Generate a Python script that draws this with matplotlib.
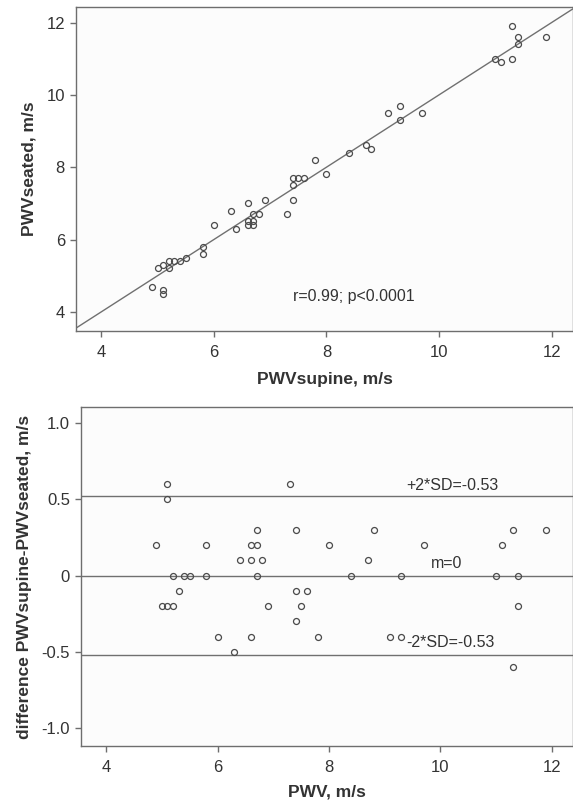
#!/usr/bin/env python3

import numpy as np
import matplotlib
matplotlib.use('Agg')
import matplotlib.pyplot as plt

pwv_supine = [4.9, 5.0, 5.1, 5.1, 5.1, 5.2, 5.2, 5.3, 5.4, 5.5,
              5.8, 5.8, 6.0, 6.3, 6.4, 6.6, 6.6, 6.6, 6.7, 6.7,
              6.7, 6.8, 6.9, 7.3, 7.4, 7.4, 7.4, 7.5, 7.6, 7.8,
              8.0, 8.4, 8.7, 8.8, 9.1, 9.3, 9.3, 9.7, 11.0, 11.1,
              11.3, 11.3, 11.4, 11.4, 11.9]
pwv_seated = [4.7, 5.2, 4.5, 4.6, 5.3, 5.2, 5.4, 5.4, 5.4, 5.5,
              5.6, 5.8, 6.4, 6.8, 6.3, 6.4, 6.5, 7.0, 6.4, 6.5,
              6.7, 6.7, 7.1, 6.7, 7.1, 7.5, 7.7, 7.7, 7.7, 8.2,
              7.8, 8.4, 8.6, 8.5, 9.5, 9.7, 9.3, 9.5, 11.0, 10.9,
              11.0, 11.9, 11.4, 11.6, 11.6]

limit_upper = 0.52
limit_mean = 0.0
limit_lower = -0.52

x_ticks = [4, 6, 8, 10, 12]
top_y_ticks = [4, 6, 8, 10, 12]
diff_ticks = [-1.0, -0.5, 0, 0.5, 1.0]
diff_tick_labels = ['-1.0', '-0.5', '0', '0.5', '1.0']

supine = np.array(pwv_supine)
seated = np.array(pwv_seated)
diff = supine - seated

spine_col = '#6e6e6e'
text_col = '#333333'
mark_col = '#4a4a4a'
bg_col = '#fcfcfc'

plt.rcParams['font.family'] = ['Liberation Sans', 'DejaVu Sans']

fig = plt.figure(figsize=(5.73, 8.0), dpi=100)
W, H = 573.0, 800.0


def px_axes(left, top, right, bottom):
    return fig.add_axes([left / W, 1 - bottom / H, (right - left) / W, (bottom - top) / H])


def style(ax):
    ax.set_facecolor(bg_col)
    for s in ax.spines.values():
        s.set_color(spine_col)
        s.set_linewidth(1.0)
    ax.tick_params(direction='out', length=4, width=1, color=spine_col,
                   labelcolor=text_col, labelsize=12)
    ax.tick_params(axis='x', pad=6)
    ax.tick_params(axis='y', pad=4)


# top: seated vs supine
ax1 = px_axes(76, 7, 573, 331)
style(ax1)
ax1.set_xlim(3.55, 12.38)
ax1.set_ylim(3.47, 12.43)
ax1.plot([3.4, 12.6], [3.4, 12.6], color='#707070', lw=1.0, zorder=1)
ax1.plot(supine, seated, 'o', ms=4.3, mfc='none', mec=mark_col, mew=0.9, zorder=2)
ax1.set_xticks(x_ticks)
ax1.set_yticks(top_y_ticks)
ax1.set_xlabel('PWVsupine, m/s', fontsize=12.5, fontweight='bold', color=text_col, labelpad=9)
ax1.set_ylabel('PWVseated, m/s', fontsize=12.5, fontweight='bold', color=text_col, labelpad=7)
ax1.text(8.49, 4.43, 'r=0.99; p<0.0001', ha='center', va='center', fontsize=11.5, color=text_col)

# bottom: Bland-Altman
ax2 = px_axes(81, 407, 573, 746)
style(ax2)
ax2.set_xlim(3.55, 12.38)
ax2.set_ylim(-1.115, 1.104)
for yv in [limit_upper, limit_mean, limit_lower]:
    ax2.axhline(yv, color='#707070', lw=1.0, zorder=1)
ax2.plot(supine, diff, 'o', ms=4.3, mfc='none', mec=mark_col, mew=0.9, zorder=2)
ax2.set_xticks(x_ticks)
ax2.set_yticks(diff_ticks)
ax2.set_yticklabels(diff_tick_labels)
ax2.set_xlabel('PWV, m/s', fontsize=12.5, fontweight='bold', color=text_col, labelpad=7)
ax2.set_ylabel('difference PWVsupine-PWVseated, m/s', fontsize=12.5, fontweight='bold',
               color=text_col, labelpad=7)
ax2.text(10.22, 0.59, '+2*SD=-0.53', ha='center', va='center', fontsize=11.5, color=text_col)
ax2.text(10.12, 0.08, 'm=0', ha='center', va='center', fontsize=11.5, color=text_col)
ax2.text(10.18, -0.44, '-2*SD=-0.53', ha='center', va='center', fontsize=11.5, color=text_col)

fig.savefig('out.png', dpi=100, facecolor='white')
